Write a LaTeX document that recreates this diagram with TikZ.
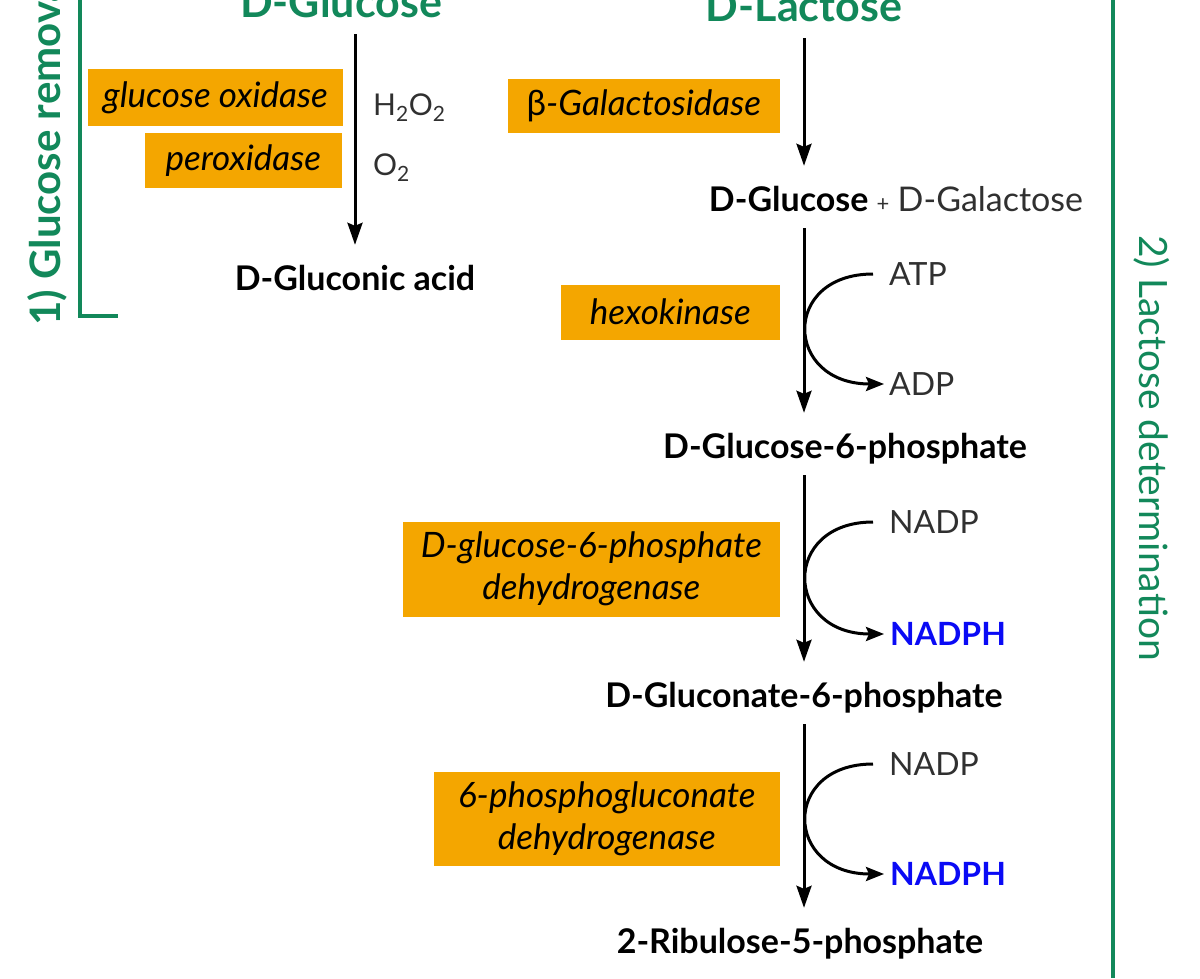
\documentclass[tikz,border=0pt]{standalone}
\usepackage{fontspec}
\setmainfont{Lato}
\usetikzlibrary{positioning, arrows.meta, calc}
\definecolor{stepgreen}{HTML}{12885A}
\definecolor{enzorange}{HTML}{F4A600}
\definecolor{nadphblue}{HTML}{0A0AF5}
\definecolor{cofgray}{HTML}{303030}
\newcommand{\molfont}{\fontsize{34}{40}\selectfont\bfseries}
\newcommand{\titlefont}{\fontsize{43}{48}\selectfont\bfseries}
\newcommand{\enzfont}{\fontsize{35}{42}\selectfont\itshape}
\newcommand{\coffont}{\fontsize{32}{36}\selectfont}
\newcommand{\sectfont}{\fontsize{39}{42}\selectfont}

\begin{document}
\begin{tikzpicture}[
  x=1pt, y=-1pt,
  mol/.style={font=\molfont, inner sep=0pt, text height=24pt,
              text depth=8pt, anchor=base},
  title/.style={mol, font=\titlefont, text=stepgreen},
  enzyme/.style={fill=enzorange, font=\enzfont, align=center,
                 inner sep=0pt, anchor=east},
  cof/.style={font=\coffont, text=cofgray, inner sep=0pt,
              text height=22pt, text depth=0pt, anchor=base west},
  sect/.style={font=\sectfont, text=stepgreen, inner sep=0pt,
               anchor=base west},
  arrow/.style={-{Stealth[length=22pt, width=15pt, inset=3pt]},
                line width=3pt, shorten <=9pt, shorten >=21pt},
  cofarrow/.style={-{Stealth[length=18pt, width=14pt, inset=3pt]},
               line width=3pt},
  bracket/.style={draw=stepgreen, line width=3.2pt},
]
  \useasboundingbox (0,0) rectangle (1200,978);
  % Section brackets
  \draw[bracket] (80,0) -- (80,316) -- (118,316);
  \draw[bracket] (1113,0) -- (1113,978);
  \node[sect, font=\fontsize{42}{46}\selectfont\bfseries, rotate=90] (s1)
    at (60,326) {1) Glucose removal};
  \node[sect, rotate=-90] (s2) at (1139,235) {2) Lactose determination};
  % Glucose removal
  \node[title] (glc0) at (341,17) {D-Glucose};
  \node[mol] (gla) at (355,290) {D-Gluconic acid};
  \node[enzyme, minimum width=255pt, minimum height=57pt] (gox)
    at (343,97.5) {glucose oxidase};
  \node[enzyme, minimum width=197pt, minimum height=55pt] (pox)
    at (342,160.5) {peroxidase};
  \node[cof, font=\fontsize{30}{36}\selectfont] (hoo) at (373,115)
    {H\textsubscript{2}O\textsubscript{2}};
  \node[cof, font=\fontsize{30}{36}\selectfont] (oo) at (373,175)
    {O\textsubscript{2}};
  % Lactose determination
  \node[title] (lac) at (804,21) {D-Lactose};
  \node[mol] (glc) at (896,211)
    {D-Glucose {\mdseries\color{cofgray}\fontsize{22}{26}\selectfont+}
     {\mdseries\color{cofgray}D-Galactose}};
  \node[mol] (g6p) at (845,458) {D-Glucose-6-phosphate};
  \node[mol] (gcn) at (804,707) {D-Gluconate-6-phosphate};
  \node[mol] (rib) at (800,953) {2-Ribulose-5-phosphate};
  % Enzymes
  \node[enzyme, minimum width=272pt, minimum height=54pt] (bgal)
    at (780,106) {{\upshape β}-Galactosidase};
  \node[enzyme, minimum width=219pt, minimum height=55pt] (hexo)
    at (780,312) {hexokinase};
  \node[enzyme, minimum width=377pt, minimum height=95pt] (gpdh)
    at (780,569) {D-glucose-6-phosphate\\dehydrogenase};
  \node[enzyme, minimum width=346pt, minimum height=94pt] (pgdh)
    at (780,818.5) {6-phosphogluconate\\dehydrogenase};
  % Cofactors
  \node[cof] (atp) at (889,285) {ATP};
  \node[cof] (adp) at (889,395) {ADP};
  \node[cof] (nadpa) at (889,533) {NADP};
  \node[cof, text=nadphblue, font=\coffont\bfseries] (nadpha)
    at (890,645) {NADPH};
  \node[cof] (nadpb) at (889,775) {NADP};
  \node[cof, text=nadphblue, font=\coffont\bfseries] (nadphb)
    at (890,885) {NADPH};
  % Arrows
  \draw[arrow] (glc0.south -| gla.north) -- (gla.north);
  \draw[arrow] (lac.south) -- (glc.north -| lac.south);
  \draw[arrow] (glc.south -| lac.south) -- (g6p.north -| lac.south);
  \draw[arrow] (g6p.south -| lac.south) -- (gcn.north -| lac.south);
  \draw[arrow] (gcn.south -| lac.south) -- (rib.north -| lac.south);
  \draw[cofarrow] ([xshift=-16pt]atp.west) .. controls +(-92,0) and +(-100,0)
    .. ([xshift=-5pt]adp.west);
  \draw[cofarrow] ([xshift=-16pt]nadpa.west) .. controls +(-92,0) and +(-100,0)
    .. ([xshift=-6pt]nadpha.west);
  \draw[cofarrow] ([xshift=-16pt]nadpb.west) .. controls +(-92,0) and +(-100,0)
    .. ([xshift=-6pt]nadphb.west);
\end{tikzpicture}
\end{document}
